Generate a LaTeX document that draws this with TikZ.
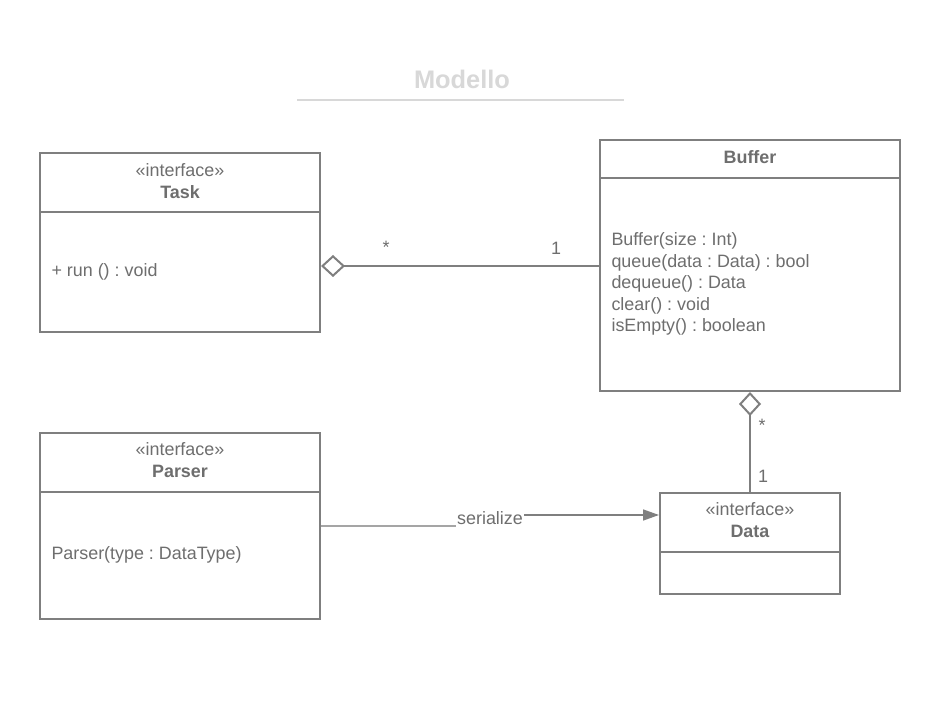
\documentclass[tikz,border=0pt]{standalone}
\usepackage{fontspec}
\setmainfont{Liberation Sans}
\usetikzlibrary{arrows.meta}
\frenchspacing
\definecolor{umlline}{HTML}{7F7F7F}
\definecolor{umltext}{HTML}{6E6E6E}
\definecolor{titlegray}{HTML}{D8D8D8}
\tikzset{
    classbox/.style={draw=umlline, line width=2pt, inner sep=0pt},
    umlfont/.style={text=umltext, font=\fontsize{17.9}{21.5}\selectfont},
    aggr/.style={draw=umlline, line width=1.5pt, {Diamond[open, length=24pt, width=22pt, line width=2pt]}-},
    assoc/.style={draw=umlline, line width=1.5pt, -{Triangle[length=16pt, width=11pt]}}
}
\begin{document}
\begin{tikzpicture}[x=1pt, y=-1pt]
        \useasboundingbox[fill=white] (0,0) rectangle (951,708);

        % title
        \node[text=titlegray, font=\fontsize{25.4}{30}\selectfont\bfseries] (title) at (462, 79) {Modello};
        \draw[titlegray, line width=2pt] (297, 100) -- (624, 100);

        % Task
        \node[classbox, minimum width=280, minimum height=179] (task) at (180, 242.5) {};
        \draw[umlline, line width=2pt] (40, 212) -- (320, 212);
        \node[umlfont, align=center] (taskname) at (180, 181) {«interface»\\\textbf{Task}};
        \node[umlfont, anchor=west] (taskops) at (48, 271.5) {+ run () : void};

        % Buffer
        \node[classbox, minimum width=300, minimum height=251] (buffer) at (750, 265.5) {};
        \draw[umlline, line width=2pt] (600, 178) -- (900, 178);
        \node[umlfont] (buffername) at (750, 157) {\textbf{Buffer}};
        \node[umlfont, anchor=west, align=left] (bufferops) at (608, 284)
            {Buffer(size : Int)\\queue(data : Data) : bool\\dequeue() : Data\\clear() : void\\isEmpty() : boolean};

        % Parser
        \node[classbox, minimum width=280, minimum height=186] (parser) at (180, 526) {};
        \draw[umlline, line width=2pt] (40, 492) -- (320, 492);
        \node[umlfont, align=center] (parsername) at (180, 460) {«interface»\\\textbf{Parser}};
        \node[umlfont, anchor=west] (parserops) at (48, 554.5) {Parser(type : DataType)};

        % Data
        \node[classbox, minimum width=180, minimum height=101] (data) at (750, 543.5) {};
        \draw[umlline, line width=2pt] (660, 552) -- (840, 552);
        \node[umlfont, align=center] (dataname) at (750, 520) {«interface»\\\textbf{Data}};

        % connectors
        \draw[aggr] (task.east |- 0, 266) -- (buffer.west |- 0, 266);
        \node[umlfont] (taskmult) at (386, 247) {*};
        \node[umlfont] (buffermult) at (556, 248) {1};

        \draw[aggr] (buffer.south) -- (data.north);
        \node[umlfont] (datamany) at (762, 425) {*};
        \node[umlfont] (dataone) at (763, 476) {1};

        \node[umlfont, inner sep=1pt] (serlabel) at (490, 518) {serialize};
        \draw[umlline!70, line width=1.5pt] (parser.east |- 0, 526) -- (serlabel.west |- 0, 526);
        \draw[assoc] (serlabel.east |- 0, 515) -- (data.west |- 0, 515);

    \end{tikzpicture}
\end{document}
